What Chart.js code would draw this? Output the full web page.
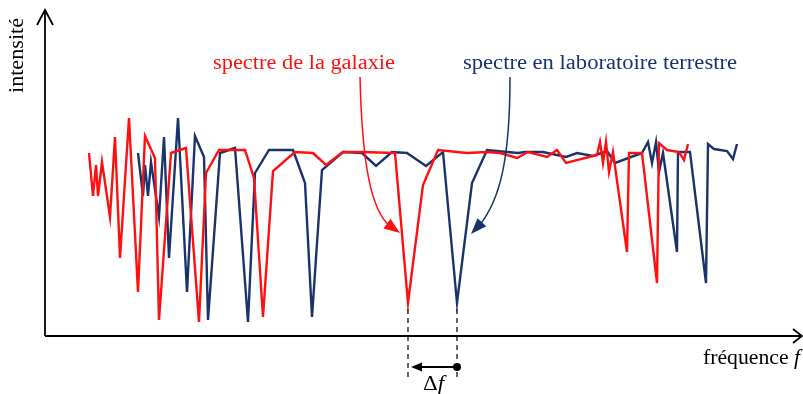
<!DOCTYPE html>
<html>
<head>
<meta charset="utf-8">
<script src="https://cdn.jsdelivr.net/npm/chart.js@4.4.0/dist/chart.umd.min.js"></script>
<style>
  html, body { margin: 0; padding: 0; background: #fff; }
</style>
</head>
<body>
<canvas id="chart-spectres" width="803" height="394"></canvas>
<script>
// spectre de la galaxie : [fréquence, intensité] (unités arbitraires)
const galaxyFreq = [44, 48, 51, 53, 57, 65, 70, 75, 84, 93, 100, 110, 114, 126, 141, 154, 161, 174, 200, 209,
  218, 228, 250, 268, 281, 298, 317, 350, 363, 378, 393, 422, 442, 455, 472, 483, 502, 512, 521, 552,
  555, 558, 561, 564, 568, 582, 584, 597, 612, 614, 622, 634, 639, 643];
const galaxyInt = [185, 142, 173, 142, 176, 121, 201, 80, 220, 46, 202, 180, 18, 185, 190, 16, 165, 188, 188, 160,
  21, 167, 186, 185, 173, 186, 186, 185, 35, 153, 188, 185, 186, 185, 180, 186, 181, 188, 175, 183,
  196, 175, 196, 166, 186, 86, 185, 185, 55, 195, 188, 186, 178, 194];

// spectre en laboratoire terrestre
const labFreq = [93, 98, 100, 103, 106, 114, 119, 124, 133, 142, 150, 159, 163, 175, 190, 203, 210, 224, 248, 260,
  267, 277, 298, 317, 331, 347, 362, 381, 398, 412, 427, 442, 473, 480, 498, 521, 532, 548, 562, 570,
  597, 603, 607, 611, 614, 618, 632, 633, 645, 661, 663, 669, 682, 688, 692];
const labInt = [185, 142, 173, 142, 176, 121, 201, 80, 220, 46, 202, 181, 18, 185, 190, 16, 165, 188, 188, 155,
  21, 168, 186, 185, 172, 186, 185, 172, 186, 35, 155, 188, 185, 186, 186, 181, 185, 182, 187, 175,
  185, 196, 175, 196, 166, 185, 86, 186, 186, 55, 194, 189, 187, 179, 194];

// raies repérées pour le décalage Δf
const galaxyLine = 363;
const labLine = 412;

const red = '#ff1010';
const navy = '#1b336b';
const serif = '"Liberation Serif", "DejaVu Serif", serif';

function toPoints(xs, ys) {
  return xs.map((x, i) => ({ x: x, y: ys[i] }));
}

function arrowHead(ctx, tipX, tipY, fromX, fromY, len, half) {
  const a = Math.atan2(tipY - fromY, tipX - fromX);
  ctx.beginPath();
  ctx.moveTo(tipX, tipY);
  ctx.lineTo(tipX - len * Math.cos(a) + half * Math.sin(a), tipY - len * Math.sin(a) - half * Math.cos(a));
  ctx.lineTo(tipX - len * Math.cos(a) - half * Math.sin(a), tipY - len * Math.sin(a) + half * Math.cos(a));
  ctx.closePath();
  ctx.fill();
}

// draws text pieces [text, italic] stretched to a given width, left aligned
function fitText(ctx, parts, x, y, width, size) {
  let natural = 0;
  parts.forEach(p => {
    ctx.font = (p[1] ? 'italic ' : '') + size + 'px ' + serif;
    natural += ctx.measureText(p[0]).width;
  });
  ctx.save();
  ctx.translate(x, y);
  ctx.scale(width / natural, 1);
  let cx = 0;
  parts.forEach(p => {
    ctx.font = (p[1] ? 'italic ' : '') + size + 'px ' + serif;
    ctx.fillText(p[0], cx, 0);
    cx += ctx.measureText(p[0]).width;
  });
  ctx.restore();
}

const decorations = {
  id: 'decorations',
  afterDraw(chart) {
    const ctx = chart.ctx;
    const area = chart.chartArea;
    const xs = chart.scales.x;
    const ys = chart.scales.y;
    const axisY = area.bottom;
    ctx.save();

    // axes with open arrow heads
    ctx.strokeStyle = '#000';
    ctx.lineWidth = 1.8;
    ctx.beginPath();
    ctx.moveTo(area.left, axisY);
    ctx.lineTo(area.left, 10);
    ctx.moveTo(area.left, axisY);
    ctx.lineTo(801, axisY);
    ctx.stroke();
    ctx.beginPath();
    ctx.moveTo(area.left - 8, 25);
    ctx.lineTo(area.left, 10);
    ctx.lineTo(area.left + 8, 25);
    ctx.moveTo(793, axisY - 7);
    ctx.lineTo(802, axisY);
    ctx.lineTo(793, axisY + 7);
    ctx.stroke();

    // axis titles
    ctx.fillStyle = '#000';
    ctx.textBaseline = 'middle';
    ctx.textAlign = 'left';
    ctx.save();
    ctx.translate(18, 93);
    ctx.rotate(-Math.PI / 2);
    fitText(ctx, [['intensité', false]], 0, 0, 75, 20);
    ctx.restore();
    fitText(ctx, [['fréquence ', false], ['f', true]], 703, 359, 97, 20);

    // series labels
    ctx.fillStyle = red;
    fitText(ctx, [['spectre de la galaxie', false]], 213, 64, 182, 20);
    ctx.fillStyle = navy;
    fitText(ctx, [['spectre en laboratoire terrestre', false]], 463, 64, 274, 20);

    // curved pointers
    ctx.lineWidth = 1.5;
    ctx.strokeStyle = red;
    ctx.fillStyle = red;
    ctx.beginPath();
    ctx.moveTo(360, 77);
    ctx.bezierCurveTo(362, 160, 370, 212, 392, 228);
    ctx.stroke();
    arrowHead(ctx, 400, 233, 386, 223, 16, 6);

    ctx.strokeStyle = navy;
    ctx.fillStyle = navy;
    ctx.beginPath();
    ctx.moveTo(510, 77);
    ctx.bezierCurveTo(510, 160, 500, 200, 479, 226);
    ctx.stroke();
    arrowHead(ctx, 471, 234, 484, 220, 16, 6);

    // dashed drop lines and Δf
    const gx = xs.getPixelForValue(galaxyLine);
    const lx = xs.getPixelForValue(labLine);
    const gi = galaxyInt[galaxyFreq.indexOf(galaxyLine)];
    const li = labInt[labFreq.indexOf(labLine)];
    ctx.strokeStyle = '#000';
    ctx.lineWidth = 1.2;
    ctx.setLineDash([5, 4]);
    ctx.beginPath();
    ctx.moveTo(gx, ys.getPixelForValue(gi) + 6);
    ctx.lineTo(gx, 378);
    ctx.moveTo(lx, ys.getPixelForValue(li) + 6);
    ctx.lineTo(lx, 378);
    ctx.stroke();
    ctx.setLineDash([]);

    ctx.fillStyle = '#000';
    ctx.lineWidth = 1.8;
    ctx.beginPath();
    ctx.moveTo(lx, 367);
    ctx.lineTo(gx + 10, 367);
    ctx.stroke();
    arrowHead(ctx, gx + 3, 367, lx, 367, 11, 4.5);
    ctx.beginPath();
    ctx.arc(lx, 367, 4, 0, Math.PI * 2);
    ctx.fill();

    fitText(ctx, [['Δ', false], ['f', true]], 423, 385, 21, 20);

    ctx.restore();
  }
};

new Chart(document.getElementById('chart-spectres'), {
  type: 'scatter',
  data: {
    datasets: [{
      label: 'spectre de la galaxie',
      data: toPoints(galaxyFreq, galaxyInt),
      showLine: true,
      borderColor: red,
      borderWidth: 2.4,
      pointRadius: 0,
      tension: 0
    },
    {
      label: 'spectre en laboratoire terrestre',
      data: toPoints(labFreq, labInt),
      showLine: true,
      borderColor: navy,
      borderWidth: 2.4,
      pointRadius: 0,
      tension: 0
    }]
  },
  options: {
    responsive: false,
    animation: false,
    devicePixelRatio: 1,
    layout: {
      padding: { left: 45, right: 3, top: 10, bottom: 58 }
    },
    plugins: {
      legend: { display: false },
      tooltip: { enabled: false },
      title: { display: false }
    },
    scales: {
      x: { type: 'linear', min: 0, max: 755, display: false },
      y: { type: 'linear', min: 2, max: 328, display: false }
    }
  },
  plugins: [decorations]
});
</script>
</body>
</html>
